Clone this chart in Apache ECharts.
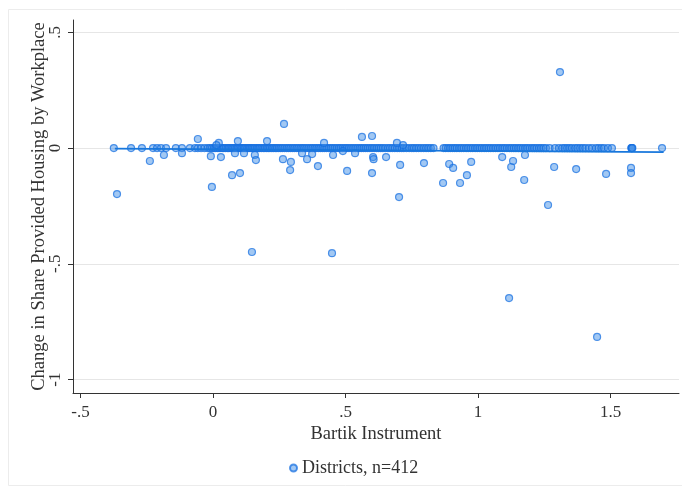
<!DOCTYPE html>
<html><head><meta charset="utf-8">
<script src="https://cdn.jsdelivr.net/npm/echarts@6/dist/echarts.min.js"></script>
<style>html,body{margin:0;padding:0;background:#fff}#c{width:682px;height:493px}</style>
</head><body><div id="c"></div>
<script>
// Districts lying on zero change (x values)
const zeroX = [-0.374,-0.309,-0.268,-0.226,-0.211,-0.196,-0.177,-0.140,-0.117,-0.087,-0.068,-0.057,-0.045,-0.032,-0.02,-0.012,-0.004,0.004,0.01,0.017,0.023,0.03,0.036,0.041,0.048,0.055,0.06,0.066,0.072,0.077,0.083,0.089,0.094,0.1,0.106,0.111,0.117,0.122,0.129,0.135,0.14,0.146,0.152,0.158,0.165,0.171,0.176,0.183,0.19,0.196,0.203,0.209,0.215,0.222,0.228,0.235,0.241,0.248,0.255,0.262,0.27,0.278,0.285,0.292,0.3,0.307,0.315,0.322,0.33,0.337,0.344,0.352,0.36,0.368,0.375,0.383,0.39,0.398,0.405,0.413,0.42,0.428,0.436,0.444,0.451,0.459,0.467,0.475,0.482,0.49,0.498,0.505,0.513,0.521,0.529,0.537,0.545,0.553,0.56,0.568,0.576,0.584,0.592,0.6,0.608,0.617,0.625,0.633,0.641,0.65,0.66,0.668,0.677,0.686,0.695,0.703,0.712,0.72,0.73,0.74,0.75,0.758,0.767,0.776,0.785,0.795,0.804,0.813,0.822,0.832,0.87,0.878,0.887,0.895,0.904,0.912,0.92,0.929,0.937,0.946,0.955,0.963,0.972,0.98,0.989,0.997,1.006,1.014,1.023,1.031,1.04,1.048,1.057,1.066,1.075,1.083,1.092,1.1,1.109,1.118,1.126,1.135,1.143,1.152,1.16,1.169,1.178,1.186,1.195,1.204,1.212,1.221,1.23,1.238,1.247,1.256,1.27,1.29,1.305,1.318,1.327,1.336,1.345,1.354,1.366,1.375,1.385,1.395,1.405,1.418,1.43,1.445,1.455,1.465,1.475,1.49,1.505,1.578,1.58,1.58,1.582,1.694];
// Districts off the zero line
const offX = [-0.362,-0.238,-0.185,-0.117,-0.057,-0.008,-0.004,0.022,0.013,0.030,0.072,0.083,0.094,0.102,0.117,0.147,0.158,0.162,0.204,0.264,0.268,0.291,0.294,0.336,0.355,0.374,0.396,0.419,0.449,0.453,0.49,0.506,0.536,0.562,0.6,0.6,0.604,0.606,0.653,0.694,0.702,0.706,0.717,0.796,0.868,0.891,0.906,0.932,0.958,0.974,1.091,1.117,1.125,1.132,1.174,1.177,1.264,1.287,1.309,1.370,1.449,1.483,1.577,1.577];
const offY = [-0.199,-0.056,-0.030,-0.022,0.039,-0.035,-0.168,0.022,0.013,-0.039,-0.117,-0.022,0.030,-0.108,-0.022,-0.449,-0.030,-0.052,0.030,-0.048,0.104,-0.095,-0.060,-0.022,-0.048,-0.026,-0.078,0.022,-0.454,-0.030,-0.013,-0.099,-0.022,0.048,0.052,-0.108,-0.039,-0.048,-0.039,0.022,-0.212,-0.073,0.013,-0.065,-0.151,-0.069,-0.086,-0.151,-0.117,-0.060,-0.039,-0.648,-0.082,-0.056,-0.138,-0.030,-0.246,-0.082,0.328,-0.091,-0.816,-0.112,-0.086,-0.108];
// Linear fit end points
const fitX = [-0.37, 1.70];
const fitY = [-0.0022, -0.0178];
const xTicks = [-0.5, 0, 0.5, 1, 1.5];
const yTicks = [-1, -0.5, 0, 0.5];
const fmt = v => { if (Math.abs(v) < 1e-9) return '0'; let s = String(v); return s.replace(/^(-?)0\./, '$1.'); };

const pts = zeroX.map(x => [x, 0]).concat(offX.map((x, i) => [x, offY[i]]));
const serif = 'Liberation Serif';
const chart = echarts.init(document.getElementById('c'));
chart.setOption({
  animation: false,
  backgroundColor: '#fff',
  textStyle: { fontFamily: serif },
  graphic: [{ type: 'rect', shape: { x: 8.5, y: 9.5, width: 700, height: 476 }, style: { fill: 'none', stroke: '#ececec', lineWidth: 1 }, silent: true }],
  grid: { left: 73, top: 20, width: 606, height: 373 },
  legend: {
    data: ['Districts, n=412'], left: 284, top: 454, itemWidth: 7, itemHeight: 7,
    textStyle: { fontFamily: serif, fontSize: 18, color: '#333' }
  },
  xAxis: {
    type: 'value', min: -0.528, max: 1.758,
    name: 'Bartik Instrument', nameLocation: 'middle', nameGap: 32, nameMoveOverlap: false,
    nameTextStyle: { fontFamily: serif, fontSize: 18.5, color: '#333' },
    axisLine: { onZero: false, lineStyle: { color: '#333', width: 1 } },
    axisTick: { show: true, length: 5, customValues: xTicks, lineStyle: { color: '#333' } },
    axisLabel: { customValues: xTicks, formatter: fmt, margin: 11, fontFamily: serif, fontSize: 17, color: '#333' },
    splitLine: { show: false }
  },
  yAxis: {
    type: 'value', min: -1.058, max: 0.553,
    name: 'Change in Share Provided Housing by Workplace', nameLocation: 'middle', nameGap: 24, nameMoveOverlap: false,
    nameTextStyle: { fontFamily: serif, fontSize: 18.5, color: '#333' },
    axisLine: { show: true, onZero: false, lineStyle: { color: '#333', width: 1 } },
    axisTick: { show: true, length: 5, customValues: yTicks, lineStyle: { color: '#333' } },
    axisLabel: { customValues: yTicks, formatter: fmt, rotate: 90, margin: 9, fontFamily: serif, fontSize: 17, color: '#333' },
    splitLine: { show: true, lineStyle: { color: '#e6e6e6', width: 1 } }
  },
  series: [
    {
      name: 'Districts, n=412', type: 'scatter', data: pts, symbol: 'circle', symbolSize: 7,
      itemStyle: { color: 'rgba(60,140,230,0.6)', borderColor: 'rgba(20,110,225,0.9)', borderWidth: 1.2 }
    },
    {
      name: 'fit', type: 'line', data: fitX.map((x, i) => [x, fitY[i]]), symbol: 'none',
      lineStyle: { color: '#1877dc', width: 1.8 }, z: 3
    }
  ]
});
</script></body></html>
